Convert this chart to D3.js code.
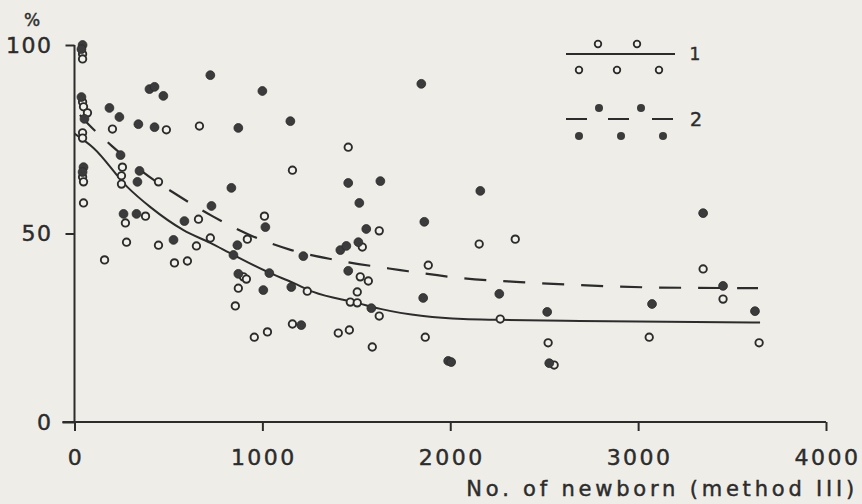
<!DOCTYPE html>
<html>
<head>
<meta charset="utf-8">
<script src="https://cdn.jsdelivr.net/npm/d3@7"></script>
<style>
  html, body { margin: 0; padding: 0; background: #eeede7; }
  svg { display: block; }
  text { font-family: "DejaVu Sans", sans-serif; fill: #2c2c2c; stroke: #2c2c2c; stroke-width: 0.45px; }
</style>
</head>
<body>
<div id="chart"></div>
<script>
// points: [newborn, %]
const openPoints = [
  [43, 97.6], [43, 96.3], [43, 84.9], [48, 83.6], [69, 82.0], [43, 76.7], [43, 75.3],
  [43, 65.0], [48, 63.7], [48, 58.1], [202, 77.7], [489, 77.5], [665, 78.5], [1160, 66.8],
  [255, 67.6], [250, 65.3], [250, 63.1], [447, 63.7], [271, 52.8], [378, 54.6], [277, 47.7],
  [160, 43.0], [447, 46.9], [532, 42.2], [601, 42.7], [660, 53.8], [649, 46.7], [723, 48.8],
  [920, 48.5], [1011, 54.6], [899, 38.5], [915, 37.9], [872, 35.5], [856, 30.8], [1160, 26.0],
  [957, 22.5], [1027, 23.9], [1457, 72.9], [1622, 50.7], [2154, 47.2], [2346, 48.5],
  [1532, 46.4], [1521, 38.5], [1564, 37.4], [1883, 41.6], [1239, 34.7], [1505, 34.5],
  [1468, 31.8], [1505, 31.6], [1622, 28.1], [2266, 27.3], [1404, 23.6], [1463, 24.4],
  [1585, 19.9], [1867, 22.5], [2521, 21.0], [2553, 15.1], [3346, 40.6], [3452, 32.6],
  [3059, 22.5], [3644, 21.0]
];

const filledPoints = [
  [43, 100], [37, 98.9], [37, 86.2], [53, 80.4], [48, 67.6], [43, 66.3], [186, 83.3],
  [239, 80.9], [340, 79.0], [426, 78.2], [399, 88.3], [426, 88.9], [473, 86.5], [723, 92.0],
  [1000, 87.8], [1149, 79.8], [872, 78.0], [835, 62.1], [245, 70.8], [346, 66.6], [335, 63.7],
  [261, 55.2], [330, 55.2], [527, 48.3], [585, 53.3], [729, 57.3], [867, 46.9], [846, 44.3],
  [1016, 51.7], [872, 39.3], [1037, 39.5], [1005, 35.0], [1154, 35.8], [1207, 25.7],
  [1457, 63.4], [1628, 63.9], [1516, 58.1], [1846, 89.7], [1553, 51.2], [1862, 53.1],
  [2160, 61.3], [1511, 47.7], [1415, 45.6], [1447, 46.7], [1218, 44.0], [1457, 40.1],
  [1580, 30.2], [1856, 32.9], [2261, 34.0], [2516, 29.2], [1989, 16.2], [2005, 15.9],
  [2527, 15.6], [3346, 55.4], [3452, 36.1], [3074, 31.3], [3622, 29.4]
];

// fitted curves as drawn (1 = solid, 2 = dashed)
const curve1 = [
  [0, 76.5], [101, 72.7], [282, 62.3], [404, 57.0], [580, 50.9], [723, 47.5], [846, 44.3],
  [1027, 39.8], [1165, 36.9], [1271, 34.5], [1505, 31.6], [1628, 30.0], [1856, 28.1],
  [2069, 27.3], [2266, 27.1], [2691, 26.8], [3649, 26.4]
];
const curve2 = [
  [0, 83], [74, 79.0], [218, 72.4], [356, 66.6], [553, 60.0], [734, 54.6], [947, 49.3],
  [1154, 45.6], [1388, 43.0], [1734, 40.3], [2053, 38.2], [2372, 37.1], [2691, 36.3],
  [3064, 35.7], [3638, 35.5]
];

const xTicks = [0, 1000, 2000, 3000, 4000];
const yTicks = [0, 50, 100];

const width = 862;
const height = 504;
const ink = "#2c2c2c";

const svg = d3.select("#chart").append("svg")
  .attr("width", width)
  .attr("height", height);

const x = d3.scaleLinear().domain([0, 4000]).range([74.5, 826]);
const y = d3.scaleLinear().domain([0, 100]).range([422, 45]);

// axes
const xAxis = svg.append("g")
  .attr("transform", `translate(0,${y(0)})`)
  .call(d3.axisBottom(x).tickValues(xTicks).tickSize(9).tickFormat(d3.format("d")).tickPadding(18));
xAxis.select(".domain").attr("stroke", ink).attr("stroke-width", 2).attr("d", `M${x(0) - 12},0H${x(4000)}`);
xAxis.selectAll(".tick line").attr("stroke", ink).attr("stroke-width", 2);
xAxis.selectAll(".tick text")
  .attr("font-size", 22).attr("letter-spacing", "2.5px")
  .attr("font-family", "DejaVu Sans").attr("fill", ink)
  .attr("dx", "1px");

const yAxis = svg.append("g")
  .attr("transform", `translate(${x(0)},0)`)
  .call(d3.axisLeft(y).tickValues(yTicks).tickSize(9).tickPadding(13));
yAxis.select(".domain").attr("stroke", ink).attr("stroke-width", 2).attr("d", `M0,${y(100)}V${y(0)}`);
yAxis.selectAll(".tick line").attr("stroke", ink).attr("stroke-width", 2);
yAxis.selectAll(".tick text")
  .attr("font-size", 22).attr("letter-spacing", "1.5px")
  .attr("font-family", "DejaVu Sans").attr("fill", ink);
yAxis.selectAll(".tick").filter(d => d === 0).select("line").attr("x2", -12);

svg.append("text")
  .attr("x", 32).attr("y", 26)
  .attr("text-anchor", "middle")
  .attr("font-size", 17)
  .text("%");

svg.append("text")
  .attr("x", 858).attr("y", 496)
  .attr("text-anchor", "end")
  .attr("font-size", 21)
  .attr("letter-spacing", "3.8px")
  .text("No. of newborn (method III)");

// curves
const line = d3.line()
  .x(d => x(d[0]))
  .y(d => y(d[1]))
  .curve(d3.curveMonotoneX);

svg.append("path")
  .datum(curve1)
  .attr("d", line)
  .attr("fill", "none")
  .attr("stroke", ink)
  .attr("stroke-width", 2);

svg.append("path")
  .datum(curve2)
  .attr("d", line)
  .attr("fill", "none")
  .attr("stroke", ink)
  .attr("stroke-width", 2.2)
  .attr("stroke-dasharray", "22,17")
  .attr("stroke-dashoffset", -8);

// points
svg.append("g").selectAll("circle")
  .data(openPoints)
  .join("circle")
  .attr("cx", d => x(d[0]))
  .attr("cy", d => y(d[1]))
  .attr("r", 3.7)
  .attr("fill", "#f2f1ec")
  .attr("stroke", ink)
  .attr("stroke-width", 1.9);

svg.append("g").selectAll("circle")
  .data(filledPoints)
  .join("circle")
  .attr("cx", d => x(d[0]))
  .attr("cy", d => y(d[1]))
  .attr("r", 4.4)
  .attr("fill", "#3b3b3b")
  .attr("stroke", "#2a2a2a")
  .attr("stroke-width", 0.8);

// legend
const legend = svg.append("g");
const leg1Top = [598, 637];
const leg1Bot = [579, 617, 659];
legend.append("line")
  .attr("x1", 566).attr("x2", 675).attr("y1", 54).attr("y2", 54)
  .attr("stroke", ink).attr("stroke-width", 2);
legend.selectAll(".o1")
  .data(leg1Top.map(v => [v, 44]).concat(leg1Bot.map(v => [v, 70])))
  .join("circle")
  .attr("cx", d => d[0]).attr("cy", d => d[1]).attr("r", 3.3)
  .attr("fill", "#f2f1ec").attr("stroke", ink).attr("stroke-width", 1.8);
legend.append("text")
  .attr("x", 695).attr("y", 60).attr("text-anchor", "middle")
  .attr("font-size", 17).text("1");

legend.selectAll(".dash2")
  .data([[566, 587], [608, 629], [652, 673]])
  .join("line")
  .attr("x1", d => d[0]).attr("x2", d => d[1]).attr("y1", 119).attr("y2", 119)
  .attr("stroke", ink).attr("stroke-width", 2);
legend.selectAll(".f2")
  .data([[599, 108], [641, 108], [579, 136], [621, 136], [663, 136]])
  .join("circle")
  .attr("cx", d => d[0]).attr("cy", d => d[1]).attr("r", 4)
  .attr("fill", "#3b3b3b");
legend.append("text")
  .attr("x", 696).attr("y", 126).attr("text-anchor", "middle")
  .attr("font-size", 19).text("2");
</script>
</body>
</html>
